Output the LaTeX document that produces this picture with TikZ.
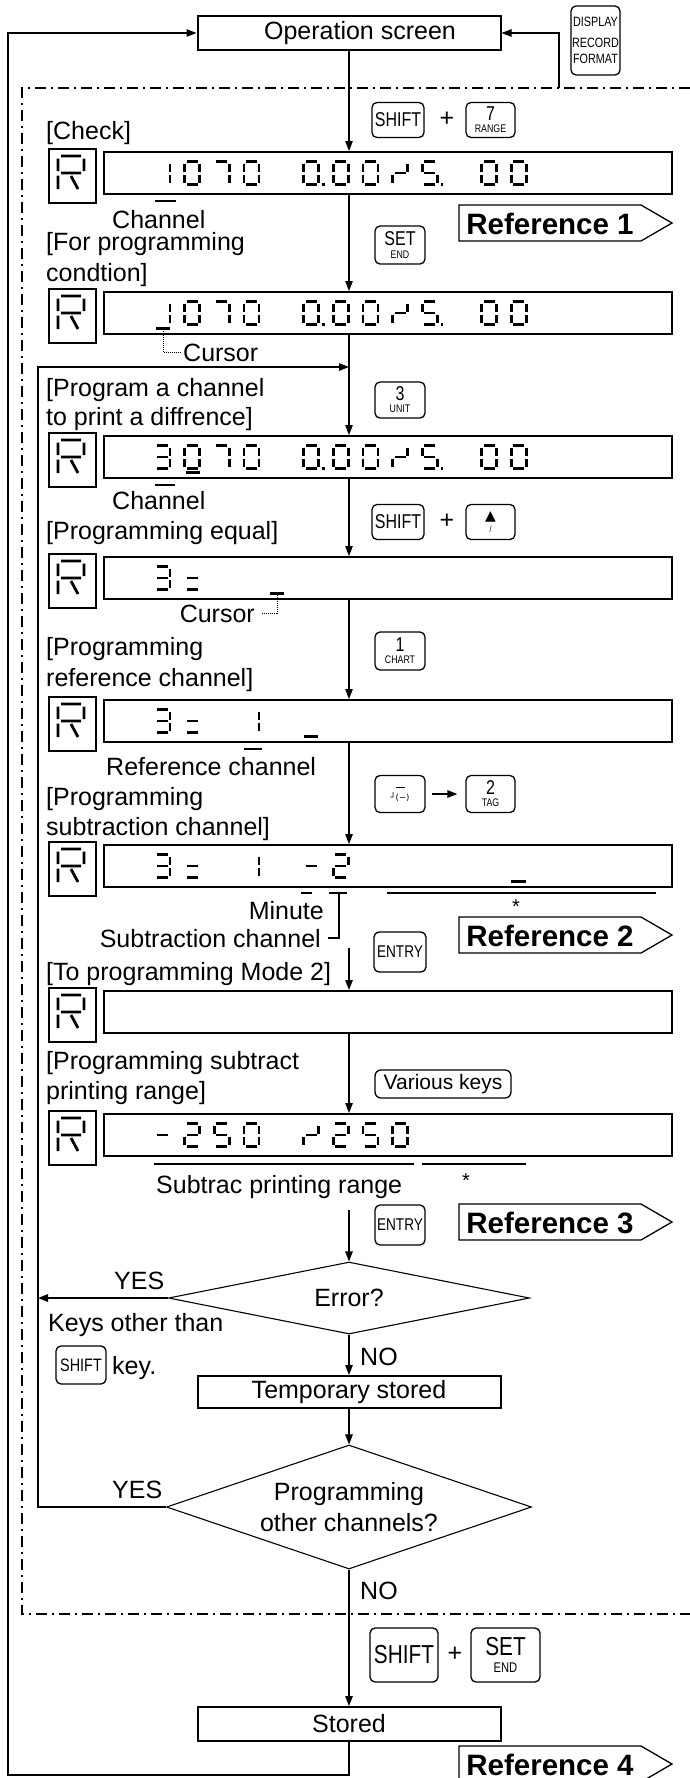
\documentclass[tikz,border=0pt]{standalone}
\usepackage{fontspec}
\setmainfont{Liberation Sans}
\newfontfamily\keyfnt[FakeStretch=0.8]{Liberation Sans}
\newfontfamily\dvfnt{DejaVu Sans}
\usetikzlibrary{arrows.meta,shapes.geometric}
\newcommand\lblfont{\fontsize{25}{30}\selectfont}
\newcommand\reffont{\fontsize{29.5}{29.5}\selectfont\bfseries}
\newcommand\ksz[1]{\fontsize{#1}{#1}\selectfont}
% seven segment pieces (cell 15 x 23, y downwards)
\newcommand\SEGXa{\draw[segl] (2,0)--(13,0);}
\newcommand\SEGXb{\draw[segl] (15,2)--(15,10);}
\newcommand\SEGXc{\draw[segl] (15,13)--(15,21);}
\newcommand\SEGXd{\draw[segl] (2,23)--(13,23);}
\newcommand\SEGXe{\draw[segl] (0,13)--(0,21);}
\newcommand\SEGXf{\draw[segl] (0,2)--(0,10);}
\newcommand\SEGXg{\draw[segl] (2,11.5)--(13,11.5);}
\newcommand\SEGXp{\fill (18.5,21.5) rectangle (21,24);}
\newcommand\sdig[3]{\begin{scope}[shift={(#1,#2)}]\foreach \s in {#3}{\csname SEGX\s\endcsname}\end{scope}}
\newcommand\stdtail[1]{\sdig{303.5}{#1}{a,b,c,d,e,f,p}\sdig{333.2}{#1}{a,b,c,d,e,f}\sdig{362.9}{#1}{a,b,c,d,e,f}\sdig{392.6}{#1}{e,g,b}\sdig{422.3}{#1}{a,f,g,c,d,p}\sdig{481.7}{#1}{a,b,c,d,e,f}\sdig{511.4}{#1}{a,b,c,d,e,f}}
\newcommand\rglyph[1]{\begin{scope}[shift={(58,#1)}]\draw[rsegl] (3,0)--(23,0) (0,2.5)--(0,15) (26,2.5)--(26,15) (3,17)--(23,17) (0,19.5)--(0,33) (13,20)--(20,33);\end{scope}}
\newcommand\dunit[2]{\node[rbox,anchor=north west] (r#1) at (48,#2-3) {};\rglyph{#2+5}\node[dispbox,anchor=north west] (d#1) at (103,#2) {};}
\newcommand\refsign[3]{\draw[refl] (459,#2) -- (641,#2) -- (672,#2+18) -- (641,#2+36) -- (459,#2+36) -- cycle;\node[font=\reffont, inner sep=0pt] (#1) at (550,#2+18.5) {#3};}
\begin{document}
\begin{tikzpicture}[x=1pt,y=-1pt,
  segl/.style={line width=2.6pt},
  rsegl/.style={line width=2.8pt},
  dispbox/.style={draw, line width=2.4pt, minimum width=568pt, minimum height=42pt, inner sep=0pt},
  rbox/.style={draw, line width=1.5pt, minimum width=47pt, minimum height=54pt, inner sep=0pt},
  pbox/.style={draw, line width=2pt, minimum width=303pt, inner sep=0pt, font=\lblfont},
  kbox/.style={draw, rounded corners=5pt, line width=1.3pt, inner sep=0pt, align=center, font=\keyfnt},
  lbl/.style={font=\lblfont, inner sep=0pt, anchor=base west},
  lblr/.style={font=\lblfont, inner sep=0pt, anchor=base east},
  conn/.style={line width=1.3pt, -{Triangle[length=10pt,width=7.5pt]}},
  framel/.style={line width=1.2pt, dash pattern=on 11pt off 5pt on 2pt off 5pt},
  leadl/.style={line width=0.7pt, dash pattern=on 1pt off 1pt},
  curs/.style={line width=2.2pt},
  markl/.style={line width=1.2pt},
  refl/.style={line width=1.3pt},
  dbox/.style={diamond, draw, line width=1.1pt, inner sep=0pt, font=\lblfont, align=center},
  starf/.style={font=\fontsize{20}{20}\selectfont, inner sep=0pt}
]
\useasboundingbox (0,0) rectangle (690,1778);
\coordinate (mx) at (349,0);

% ---------- top ----------
\node[pbox, minimum height=34pt] (op) at (349,33) {\hspace*{22pt}Operation screen};
\node[kbox, minimum width=49pt, minimum height=69pt, font=\keyfnt\ksz{16}] (kdisp) at (595.5,40.5) {\ksz{13.5}DISPLAY\\[5pt]\ksz{13.5}RECORD\\\ksz{13.5}FORMAT};
\coordinate (dtop) at (559,88);
\draw[conn] (dtop) |- (op.east);

% frame
\draw[framel] (690,88) -- (22,88) -- (22,1614) -- (690,1614);

% ---------- display units ----------
\dunit{1}{151}
\dunit{2}{291}
\dunit{3}{435}
\dunit{4}{556}
\dunit{5}{699}
\dunit{6}{844}
\dunit{7}{990}
\dunit{8}{1113}

% D1
\sdig{155}{161.5}{b,c}\sdig{184.7}{161.5}{a,b,c,d,e,f}\sdig{214.4}{161.5}{a,b,c}\sdig{244.1}{161.5}{a,b,c,d,e,f}\stdtail{161.5}
% D2
\sdig{155}{301.5}{b,c}\sdig{184.7}{301.5}{a,b,c,d,e,f}\sdig{214.4}{301.5}{a,b,c}\sdig{244.1}{301.5}{a,b,c,d,e,f}\stdtail{301.5}
\draw[curs] (156,328.5) -- (170,328.5);
% D3
\sdig{155}{445.5}{a,b,g,c,d}\sdig{184.7}{445.5}{a,b,c,d,e,f}\sdig{214.4}{445.5}{a,b,c}\sdig{244.1}{445.5}{a,b,c,d,e,f}\stdtail{445.5}
\draw[curs] (186,472.5) -- (200,472.5);
% D4
\sdig{155}{566.5}{a,b,g,c,d}\sdig{184.7}{566.5}{g,d}
\draw[curs] (270,593.5) -- (284,593.5);
% D5
\sdig{155}{709.5}{a,b,g,c,d}\sdig{184.7}{709.5}{g,d}\sdig{244.1}{709.5}{b,c}
\draw[curs] (304,736.5) -- (318,736.5);
% D6
\sdig{155}{854.5}{a,b,g,c,d}\sdig{184.7}{854.5}{g,d}\sdig{244.1}{854.5}{b,c}\sdig{303.5}{854.5}{g}\sdig{333.2}{854.5}{a,b,g,e,d}
\draw[curs] (511,881.5) -- (526,881.5);
% D8
\sdig{155}{1123.5}{g}\sdig{184.7}{1123.5}{a,b,g,e,d}\sdig{214.4}{1123.5}{a,f,g,c,d}\sdig{244.1}{1123.5}{a,b,c,d,e,f}
\sdig{303.5}{1123.5}{e,g,b}\sdig{333.2}{1123.5}{a,b,g,e,d}\sdig{362.9}{1123.5}{a,f,g,c,d}\sdig{392.6}{1123.5}{a,b,c,d,e,f}

% ---------- keys ----------
\node[kbox, minimum width=52pt, minimum height=35pt] (kA1) at (398,120) {\ksz{20}SHIFT};
\node[font=\lblfont, inner sep=0pt] (pA) at (447,119) {+};
\node[kbox, minimum width=49pt, minimum height=35pt, font=\keyfnt\ksz{12}] (kA2) at (490.5,120) {{\ksz{20}7}\\{\ksz{11}RANGE}};
\node[kbox, minimum width=50pt, minimum height=38pt, font=\keyfnt\ksz{12.5}] (kB) at (400,245) {{\ksz{20}SET}\\{\ksz{11}END}};
\node[kbox, minimum width=50pt, minimum height=36pt, font=\keyfnt\ksz{12}] (kC) at (400,400) {{\ksz{20}3}\\{\ksz{11}UNIT}};
\node[kbox, minimum width=52pt, minimum height=35pt] (kD1) at (398,522) {\ksz{20}SHIFT};
\node[font=\lblfont, inner sep=0pt] (pD) at (447,521) {+};
\node[kbox, minimum width=49pt, minimum height=35pt, font=\keyfnt\ksz{12}] (kD2) at (490.5,522) {{\dvfnt\ksz{14}▲}\\{\ksz{9}/}};
\node[kbox, minimum width=50pt, minimum height=38pt, font=\keyfnt\ksz{12}] (kE) at (400,651) {{\ksz{20}1}\\{\ksz{11}CHART}};
\node[kbox, minimum width=50pt, minimum height=37pt, font=\keyfnt\ksz{10}] (kF1) at (400,794) {\rule{9pt}{1.1pt}\\[2pt]{\dvfnt\ksz{8.5}┘(−)}};
\node[kbox, minimum width=49pt, minimum height=37pt, font=\keyfnt\ksz{12}] (kF2) at (490.5,794) {{\ksz{20}2}\\{\ksz{11}TAG}};
\draw[conn, shorten <=6pt, shorten >=8pt] (kF1.east) -- (kF2.west);
\node[kbox, minimum width=52pt, minimum height=40pt] (kG) at (400,952) {\ksz{17}ENTRY};
\node[kbox, rounded corners=6pt, minimum width=136pt, minimum height=28pt, font=\ksz{21}] (kH) at (443,1084) {Various keys};
\node[kbox, minimum width=50pt, minimum height=40pt] (kI) at (400,1225) {\ksz{17}ENTRY};
\node[kbox, minimum width=50pt, minimum height=38pt] (kJ) at (81,1365) {\ksz{18}SHIFT};
\node[kbox, minimum width=68pt, minimum height=54pt] (kK) at (404,1655) {\ksz{26}SHIFT};
\node[font=\lblfont, inner sep=0pt] (pK) at (455,1654) {+};
\node[kbox, minimum width=69pt, minimum height=54pt, font=\keyfnt\ksz{17}] (kL) at (505.5,1655) {{\ksz{26}SET}\\{\ksz{14}END}};

% ---------- references ----------
\refsign{ref1}{205}{Reference 1}
\refsign{ref2}{917}{Reference 2}
\refsign{ref3}{1204}{Reference 3}
\refsign{ref4}{1746}{Reference 4}

% ---------- labels ----------
\node[lbl] (tCheck) at (46,139) {[Check]};
\draw[markl] (155,201) -- (176,201);
\node[lbl] (tCh1) at (112,228) {Channel};
\node[lbl] (tFor1) at (46,250) {[For programming};
\node[lbl] (tFor2) at (46,281) {condtion]};
\node[lbl] (tCur1) at (183,361) {Cursor};
\draw[leadl] (163,331) |- ([xshift=-3pt]tCur1.west);
\node[lbl] (tPg1) at (46,396) {[Program a channel};
\node[lbl] (tPg2) at (46,425) {to print a diffrence]};
\draw[markl] (155,485) -- (175,485);
\node[lbl] (tCh2) at (112,509) {Channel};
\node[lbl] (tEq) at (46,539) {[Programming equal]};
\node[lblr] (tCur2) at (255,622) {Cursor};
\draw[leadl] (277,595) |- ([xshift=7pt]tCur2.east);
\node[lbl] (tRc1) at (46,655) {[Programming};
\node[lbl] (tRc2) at (46,686) {reference channel]};
\draw[markl] (244,749) -- (262,749);
\node[lbl] (tRefch) at (106,775) {Reference channel};
\node[lbl] (tSc1) at (46,805) {[Programming};
\node[lbl] (tSc2) at (46,835) {subtraction channel]};
\draw[markl] (301,893) -- (312,893);
\draw[markl] (329,893) -- (347,893);
\draw[markl] (339,893) -- (339,938) -- (328,938);
\draw[markl] (387,893) -- (656,893);
\node[starf] (st1) at (516,907) {*};
\node[lblr] (tMin) at (324,919) {Minute};
\node[lblr] (tSubch) at (321,947) {Subtraction channel};
\node[lbl] (tMode) at (46,980) {[To programming Mode 2]};
\node[lbl] (tRg1) at (46,1069) {[Programming subtract};
\node[lbl] (tRg2) at (46,1099) {printing range]};
\draw[markl] (154,1164) -- (414,1164);
\draw[markl] (422,1164) -- (526,1164);
\node[starf] (st2) at (466,1181) {*};
\node[lbl] (tRng) at (156,1193) {Subtrac printing range};

% ---------- decisions and boxes ----------
\node[dbox, aspect=5, minimum width=361pt, minimum height=72pt] (err) at (349,1298) {Error?};
\node[pbox, minimum height=32pt] (temp) at (349,1392) {Temporary stored};
\node[dbox, aspect=2.9, minimum width=365pt, minimum height=124pt, font=\fontsize{25}{31}\selectfont] (oth) at (349,1507) {Programming\\other channels?};
\node[pbox, minimum height=34pt] (stored) at (349,1724) {Stored};

\node[lbl] (tYes1) at (114,1289) {YES};
\node[lbl] (tKeys) at (48,1331) {Keys other than};
\node[lbl] (tKey) at (112,1374) {key.};
\node[lbl] (tNo1) at (360,1365) {NO};
\node[lbl] (tYes2) at (112,1498) {YES};
\node[lbl] (tNo2) at (360,1599) {NO};

% ---------- connectors ----------
\draw[conn] (op.south) -- (mx |- d1.north);
\draw[conn] (mx |- d1.south) -- (mx |- d2.north);
\draw[conn] (mx |- d2.south) -- (mx |- d3.north);
\draw[conn] (mx |- d3.south) -- (mx |- d4.north);
\draw[conn] (mx |- d4.south) -- (mx |- d5.north);
\draw[conn] (mx |- d5.south) -- (mx |- d6.north);
\coordinate (a7) at (349,948);
\draw[conn] (a7) -- (mx |- d7.north);
\draw[conn] (mx |- d7.south) -- (mx |- d8.north);
\coordinate (a9) at (349,1210);
\draw[conn] (a9) -- (err.north);
\draw[conn] (err.south) -- (temp.north);
\draw[conn] (temp.south) -- (oth.north);
\draw[conn] (oth.south) -- (stored.north);
\coordinate (rl) at (38,367);
\draw[conn] (err.west) -- (err.west -| rl);
\draw[conn] (oth.west) -| (rl) -- (mx |- rl);
\coordinate (lb) at (8,1775);
\coordinate (lt) at (8,33);
\draw[conn] (stored.south) -- (stored.south |- lb) -- (lb) -- (lt) -- (op.west);
\end{tikzpicture}
\end{document}
